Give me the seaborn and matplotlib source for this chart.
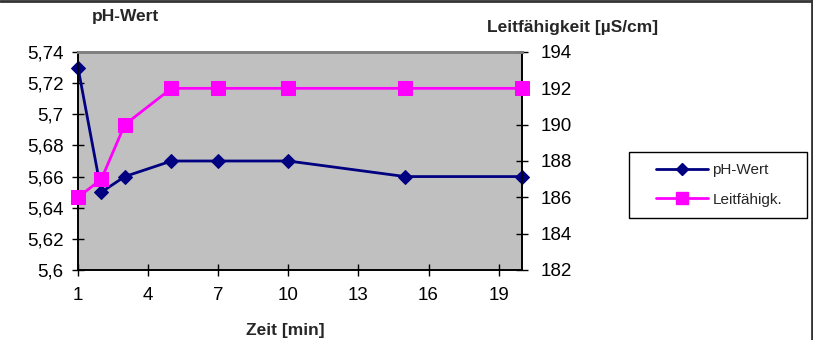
import matplotlib
matplotlib.use("Agg")
import matplotlib.pyplot as plt
import seaborn as sns
import pandas as pd
from matplotlib.ticker import FuncFormatter
from matplotlib.lines import Line2D
from matplotlib.patches import Rectangle

zeit = [1, 2, 3, 5, 7, 10, 15, 20]
ph_wert = [5.73, 5.65, 5.66, 5.67, 5.67, 5.67, 5.66, 5.66]
leitf = [186, 187, 190, 192, 192, 192, 192, 192]
ph_ticks = [5.60, 5.62, 5.64, 5.66, 5.68, 5.70, 5.72, 5.74]
lf_ticks = [182, 184, 186, 188, 190, 192, 194]
x_ticks = [1, 4, 7, 10, 13, 16, 19]

sns.set_theme(style="white")
plt.rcParams['font.family'] = ['Liberation Sans', 'DejaVu Sans']

df = pd.DataFrame({"Zeit": zeit, "pH": ph_wert, "LF": leitf})

W, H = 813, 340
fig = plt.figure(figsize=(W / 100, H / 100), dpi=100)
fig.patch.set_facecolor("white")
L, R, T, B = 78, 522, 52, 270
ax = fig.add_axes([L / W, 1 - B / H, (R - L) / W, (B - T) / H])
ax.set_facecolor("#C0C0C0")
ax2 = ax.twinx()
ax2.patch.set_visible(False)

navy = "#000080"
mag = "#FF00FF"
sns.lineplot(data=df, x="Zeit", y="pH", ax=ax, color=navy, lw=2, marker="D",
             markersize=7, markeredgecolor=navy, clip_on=False, zorder=3)
sns.lineplot(data=df, x="Zeit", y="LF", ax=ax2, color=mag, lw=2, marker="s",
             markersize=10, markeredgecolor=mag, clip_on=False, zorder=3)

ax.set_xlim(1, 20)
ax.set_ylim(ph_ticks[0], ph_ticks[-1])
ax2.set_ylim(lf_ticks[0], lf_ticks[-1])
ax.set_xticks(x_ticks)
ax.set_yticks(ph_ticks)
ax2.set_yticks(lf_ticks)
fmt = FuncFormatter(lambda v, p: f"{v:g}".replace(".", ","))
ax.yaxis.set_major_formatter(fmt)
ax2.yaxis.set_major_formatter(FuncFormatter(lambda v, p: f"{v:g}"))

for a in (ax, ax2):
    for s in a.spines.values():
        s.set_linewidth(1.2)
        s.set_color("black")
    a.spines["top"].set_color("#808080")
    a.spines["top"].set_linewidth(2)
ax.tick_params(axis="both", which="major", direction="inout", length=9, width=1,
               labelsize=13.5, colors="black", pad=6)
ax.tick_params(axis="y", left=True, right=False)
ax.tick_params(axis="x", bottom=True, pad=8)
ax2.tick_params(axis="y", direction="inout", length=9, width=1, labelsize=13.5,
                colors="black", right=True, pad=9)

ax.set_xlabel("Zeit [min]", fontsize=12.5, fontweight="bold", va="center")
ax.xaxis.set_label_coords((285 - L) / (R - L), (B - 331) / (B - T))
ax.set_ylabel("pH-Wert", fontsize=12.5, fontweight="bold", rotation=0, va="center", ha="center")
ax.yaxis.set_label_coords((125 - L) / (R - L), (B - 17) / (B - T))
ax2.set_ylabel("Leitfähigkeit [µS/cm]", fontsize=12.5, fontweight="bold", rotation=0,
               va="center", ha="center")
ax2.yaxis.set_label_coords((573 - L) / (R - L), (B - 28) / (B - T))

# legend frame and entries
fig.patches.append(Rectangle((629 / W, 1 - 218 / H), 178 / W, 66 / H, transform=fig.transFigure,
                             facecolor="white", edgecolor="black", lw=1))
handles = [Line2D([], [], color=navy, lw=2, marker="D", markersize=6),
           Line2D([], [], color=mag, lw=2, marker="s", markersize=8)]
fig.legend(handles, ["pH-Wert", "Leitfähigk."], loc="center left", frameon=False,
           bbox_to_anchor=(656 / W, 1 - 185 / H), fontsize=11, handlelength=3.4,
           handletextpad=0.3, labelspacing=1.0, borderaxespad=0, borderpad=0)

# outer chart border (top and right visible)
fig.add_artist(Line2D([0, 812.5 / W], [1 - 1 / H, 1 - 1 / H], transform=fig.transFigure,
                      color="#333333", lw=2))
fig.add_artist(Line2D([812 / W, 812 / W], [0, 1], transform=fig.transFigure,
                      color="#333333", lw=2))

fig.savefig("out.png", dpi=100)
